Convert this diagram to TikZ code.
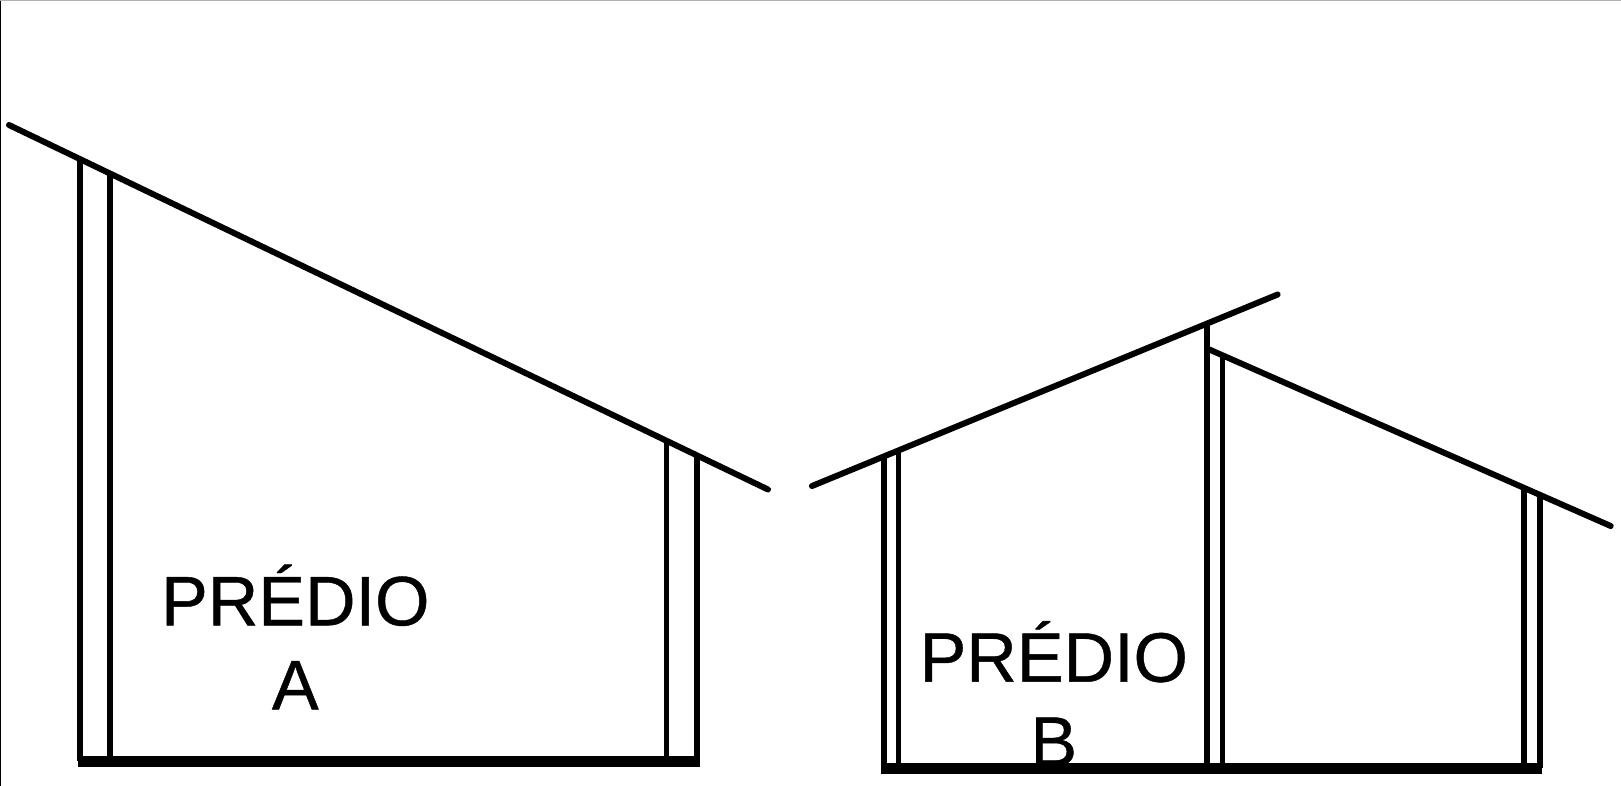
\documentclass[tikz,border=0pt]{standalone}
\usepackage{fontspec}
\setmainfont[FakeBold=0.6]{Liberation Sans}
\tikzset{
  roof/.style={black,line width=6pt,line cap=round},
  pillar/.style={black,line width=6pt},
  thinpillar/.style={black,line width=5.4pt},
  floorline/.style={black,line width=11pt,line cap=butt},
  label/.style={inner sep=0pt,align=center,anchor=base,font=\fontsize{70}{84}\selectfont}
}
\begin{document}
\begin{tikzpicture}[x=1pt,y=-1pt]
\useasboundingbox (0,0) rectangle (1621,786);
\fill[white] (0,0) rectangle (1621,786);
\fill[black] (0,0) rectangle (1.2,786);
\fill[black!30] (0,0) rectangle (1621,1);
% Building A
\draw[pillar] (80,159) -- (80,761);
\draw[thinpillar] (110,174) -- (110,761);
\draw[thinpillar] (666.7,441) -- (666.7,761);
\draw[pillar] (696.5,456) -- (696.5,761);
\draw[roof] (9,125) -- (768,489.5);
\draw[floorline] (77.5,761.3) -- (699.5,761.3);
% Building B
\draw[pillar] (883.7,458) -- (883.7,767.7);
\draw[thinpillar] (898.3,452) -- (898.3,767.7);
\draw[pillar] (1206.7,323) -- (1206.7,767.7);
\draw[thinpillar] (1222.3,355) -- (1222.3,767.7);
\draw[pillar] (1524.3,488) -- (1524.3,767.7);
\draw[pillar] (1539.7,495) -- (1539.7,767.7);
\draw[roof] (812,486) -- (1277.7,294.5);
\draw[roof] (1207,348.5) -- (1610.7,526);
\draw[floorline] (881,768) -- (1542,768);
% Labels
\node[label] (a) at (295.3,709.3) {PRÉDIO\\A};
\node[label] (b) at (1053.8,765.7) {PRÉDIO\\B};
\end{tikzpicture}
\end{document}
